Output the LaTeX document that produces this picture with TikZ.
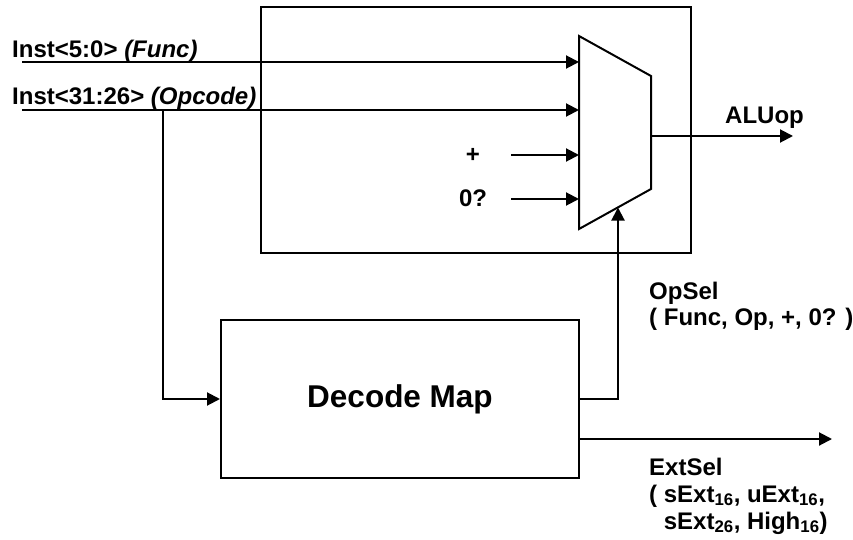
\documentclass[tikz,border=0pt]{standalone}
\usepackage{fontspec}
\setmainfont{Liberation Sans}
\usetikzlibrary{arrows.meta}
\tikzset{
  wire/.style={line width=2pt},
  arr/.style={wire,-{Triangle[length=13pt,width=13pt]}},
  blk/.style={draw,line width=2pt,inner sep=0pt,rectangle},
  lbl/.style={inner sep=0pt,font=\fontsize{24}{28}\selectfont\bfseries},
}
\begin{document}
\begin{tikzpicture}[x=1pt,y=-1pt]
\useasboundingbox (0,0) rectangle (853,540);
% outer box
\node[blk,minimum width=430pt,minimum height=246pt] (alu) at (476,130) {};
% mux
\coordinate (mtl) at (579,36);
\coordinate (mtr) at (651,76);
\coordinate (mbr) at (651,189);
\coordinate (mbl) at (579,229);
\draw[wire,line join=miter] (mtl) -- (mtr) -- (mbr) -- (mbl) -- cycle;
% decode box
\node[blk,minimum width=358pt,minimum height=158pt,font=\fontsize{31.5}{36}\selectfont\bfseries] (dec) at (400,399) {Decode Map};
% input labels
\node[lbl,anchor=base west] (lfunc) at (12,58) {Inst<5:0> \textit{(Func)}};
\node[lbl,anchor=base west] (lop) at (12,105) {Inst<31:26> \textit{(Opcode)}};
\node[lbl] (lplus) at (473,155) {+};
\node[lbl,anchor=base] (lzero) at (473,206) {0?};
\node[lbl,anchor=base west] (lalu) at (725,124) {ALUop};
\node[lbl,anchor=base west] (lops1) at (649,299) {OpSel};
\node[lbl,anchor=base west] (lops2) at (649,325) {( Func, Op, +, 0? )};
\node[lbl,anchor=base west] (lext1) at (649,475) {ExtSel};
\node[lbl,anchor=base west] (lext2) at (649,502) {( sExt\textsubscript{16}, uExt\textsubscript{16},};
\node[lbl,anchor=base west] (lext3) at (649,529) {\phantom{( }sExt\textsubscript{26}, High\textsubscript{16})};
% wire coordinates
\coordinate (fs) at (22,62);
\coordinate (fe) at (579,62);
\coordinate (os) at (22,110);
\coordinate (oe) at (579,110);
\coordinate (ob) at (163,110);
\coordinate (obd) at (163,399);
\coordinate (ps) at (511,155);
\coordinate (pe) at (579,155);
\coordinate (zs) at (511,199);
\coordinate (ze) at (579,199);
\coordinate (mo) at (651,136);
\coordinate (aluend) at (793,136);
\coordinate (selc) at (618,399);
\coordinate (selt) at (618,207.5);
\coordinate (exs) at (579,439);
\coordinate (exe) at (832,439);
% wires
\draw[arr] (fs) -- (fe);
\draw[arr] (os) -- (oe);
\draw[arr] (ps) -- (pe);
\draw[arr] (zs) -- (ze);
\draw[arr] (mo) -- (aluend);
\draw[arr] (ob) -- (obd) -- (dec.west);
\draw[arr] (dec.east) -- (selc) -- (selt);
\draw[arr] (exs) -- (exe);
\end{tikzpicture}
\end{document}
